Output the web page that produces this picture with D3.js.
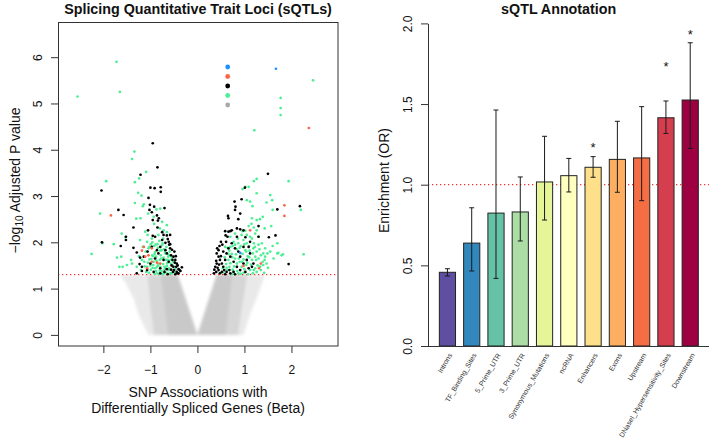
<!DOCTYPE html>
<html>
<head>
<meta charset="utf-8">
<script src="https://cdn.jsdelivr.net/npm/d3@7"></script>
<style>
  body { margin: 0; background: #fff; }
  svg { display: block; font-family: "Liberation Sans", Arial, Helvetica, sans-serif; }
</style>
</head>
<body>
<svg width="709" height="441"></svg>
<script>
// ---- left panel: sQTL volcano (beta, -log10 adj p) ----
const xTicks = [-2, -1, 0, 1, 2];
const yTicks = [0, 1, 2, 3, 4, 5, 6];
const threshold = 1.3;

// non-significant cloud, outlined as envelopes
const grayFringe = [
  [[0, 0], [-1.04, 0], [-1.25, 0.43], [-1.36, 0.79], [-1.54, 1.15], [-1.66, 1.3], [-0.42, 1.3]],
  [[0, 0], [0.98, 0], [1.12, 0.45], [1.26, 0.79], [1.44, 1.3], [0.41, 1.3]]
];
const grayCore = [
  [[0, 0], [-0.92, 0], [-1.0, 0.6], [-1.06, 1.3], [-0.42, 1.3]],
  [[0, 0], [0.86, 0], [0.95, 0.6], [1.06, 1.3], [0.41, 1.3]]
];
const grayInner = [
  [[0, 0], [-0.62, 0], [-0.78, 1.3], [-0.42, 1.3]],
  [[0, 0], [0.6, 0], [0.74, 1.3], [0.41, 1.3]]
];

const greenPts = [
  [-1.34, 3.96], [-1.39, 3.80], [-1.94, 3.32], [-1.09, 3.52], [-1.24, 3.38], [-1.33, 3.30],
  [-1.26, 3.07], [-1.19, 3.01], [-1.14, 2.82], [-1.16, 2.78], [-1.33, 2.85], [-2.07, 2.62],
  [-1.21, 2.52], [-1.30, 2.51], [-1.05, 2.62], [-0.87, 2.71], [-0.79, 2.73], [-0.93, 2.55],
  [-1.61, 2.19], [-1.53, 2.11], [-1.78, 1.96], [-2.02, 1.98], [-2.25, 1.75], [-1.71, 1.67],
  [-1.62, 1.69], [-1.59, 1.47], [-1.66, 1.47], [-1.41, 1.62], [-1.39, 1.54], [-1.50, 1.51],
  [-1.29, 1.47], [-0.75, 2.44], [-0.65, 2.37], [-0.72, 2.26], [-1.22, 2.05], [-1.07, 2.01],
  [-0.99, 1.96], [-0.92, 1.92], [-0.85, 1.96], [-0.75, 1.94], [-0.66, 1.90], [-0.59, 1.80],
  [-0.68, 1.76], [-0.78, 1.72], [-0.88, 1.69], [-0.96, 1.72], [-1.02, 1.63], [-0.93, 1.58],
  [-0.83, 1.54], [-0.73, 1.53], [-0.65, 1.49], [-0.56, 1.54], [-0.52, 1.47], [-0.61, 1.40],
  [-0.70, 1.41], [-0.80, 1.39], [-0.90, 1.44], [-0.99, 1.41], [-1.07, 1.47], [-1.03, 1.34],
  [-0.86, 1.33], [-0.75, 1.31], [-0.66, 1.34], [-0.58, 1.33], [-0.49, 1.36], [-0.54, 1.67],
  [-0.63, 1.62], [-0.72, 1.67], [-0.80, 1.62], [-0.86, 1.47], [-0.94, 1.51], [-1.13, 1.58],
  [-1.10, 1.80], [-1.16, 1.90], [-1.04, 1.87], [-0.79, 1.82], [-0.90, 1.79], [-0.71, 1.85],
  [-0.61, 1.73], [-0.51, 1.58], [-0.97, 2.08], [-0.83, 2.16], [-0.73, 2.08], [-1.06, 2.16],
  [-1.11, 2.23], [-0.68, 1.44], [-0.79, 1.47],
  [-1.00, 1.50], [-0.95, 1.45], [-0.88, 1.38], [-0.82, 1.32], [-0.76, 1.38], [-0.70, 1.47],
  [-0.64, 1.55], [-0.60, 1.44], [-0.55, 1.33], [-0.53, 1.50], [-0.57, 1.62], [-0.62, 1.69],
  [-0.69, 1.78], [-0.76, 1.83], [-0.84, 1.88], [-0.91, 1.75], [-0.98, 1.64], [-1.05, 1.56],
  [-1.12, 1.48], [-1.09, 1.36], [-0.94, 1.70], [-0.87, 1.60], [-0.77, 1.65], [-0.67, 1.62],
  [-0.58, 1.72], [-0.74, 1.98], [-0.81, 2.03], [-0.89, 1.95], [-0.96, 2.00], [-1.02, 1.90],
  [-0.65, 2.22], [-0.80, 2.30], [-0.92, 2.40], [-1.18, 1.62], [-1.24, 1.70], [-1.20, 1.40],
  [-0.72, 1.33], [-0.84, 1.50], [-0.91, 1.32], [-0.47, 1.42],
  [-2.55, 5.15], [-1.72, 5.90], [-1.65, 5.25],
  [1.21, 4.42], [1.94, 3.32], [1.26, 3.37], [1.20, 3.32], [0.96, 3.15], [1.02, 3.20],
  [1.09, 3.20], [1.26, 3.06], [1.05, 2.91], [1.12, 2.88], [1.17, 2.78], [1.47, 2.86],
  [1.55, 3.02], [1.59, 2.91], [1.60, 2.70], [2.20, 2.70], [1.39, 2.55], [1.33, 2.50],
  [1.26, 2.48], [1.16, 2.52], [1.57, 2.35], [1.43, 2.30], [1.26, 2.26], [1.09, 2.35],
  [1.02, 2.25], [1.30, 2.12], [1.20, 1.98], [1.05, 1.98], [1.70, 1.98], [1.60, 1.92],
  [1.72, 1.77], [1.82, 1.74], [2.26, 1.74], [1.40, 1.76], [1.43, 1.62], [1.47, 1.54],
  [1.40, 1.51], [1.33, 1.47], [2.46, 5.50], [1.77, 5.12], [1.77, 4.90], [1.77, 4.75],
  [0.59, 1.90], [0.68, 1.82], [0.75, 1.92], [0.84, 1.85], [0.92, 1.92], [1.02, 1.83],
  [1.11, 1.82], [1.19, 1.87], [1.26, 1.80], [1.35, 1.72], [1.30, 1.65], [1.23, 1.69],
  [1.16, 1.62], [1.07, 1.70], [0.98, 1.63], [0.90, 1.58], [0.80, 1.65], [0.73, 1.75],
  [0.66, 1.62], [0.61, 1.53], [0.68, 1.47], [0.75, 1.41], [0.84, 1.54], [0.94, 1.47],
  [1.04, 1.51], [1.12, 1.40], [1.23, 1.44], [1.26, 1.36], [1.18, 1.33], [1.08, 1.31],
  [0.98, 1.34], [0.87, 1.33], [0.64, 1.40], [0.54, 1.44], [0.73, 1.31], [1.33, 1.47],
  [1.39, 1.58], [1.44, 1.69], [1.49, 1.76], [0.77, 2.01], [0.87, 1.98], [0.98, 2.05],
  [0.70, 2.12], [0.80, 2.19], [0.94, 2.16], [1.05, 2.16], [1.16, 2.08], [1.23, 2.19],
  [1.37, 1.98], [1.44, 1.87], [1.55, 1.80], [1.62, 1.65], [1.70, 1.76], [1.79, 1.72],
  [0.55, 1.35], [0.62, 1.45], [0.70, 1.55], [0.78, 1.48], [0.85, 1.38], [0.92, 1.32],
  [1.00, 1.42], [1.06, 1.56], [1.14, 1.52], [1.20, 1.40], [1.28, 1.50], [1.35, 1.40],
  [0.58, 1.68], [0.66, 1.75], [0.74, 1.68], [0.82, 1.74], [0.88, 1.65], [0.96, 1.75],
  [1.04, 1.80], [1.10, 1.68], [1.18, 1.76], [1.25, 1.62], [0.70, 1.90], [0.80, 1.95],
  [0.90, 1.88], [1.00, 1.96], [1.10, 1.92], [1.22, 1.90], [1.32, 1.85], [0.86, 2.08],
  [0.96, 2.24], [1.12, 2.12], [1.20, 2.32], [0.76, 1.36], [0.95, 1.58], [1.42, 1.34],
  [1.50, 1.45], [0.64, 1.88], [1.30, 1.95], [1.15, 2.40]
];

const blackPts = [
  [-0.95, 4.14], [-0.85, 3.62], [-2.04, 3.12], [-1.00, 3.18], [-0.91, 3.17], [-0.78, 3.19],
  [-0.78, 3.09], [-1.21, 3.46], [-1.04, 2.96], [-1.01, 2.81], [-1.02, 2.70], [-0.92, 2.77],
  [-0.97, 2.65], [-0.70, 2.74], [-1.68, 2.70], [-1.57, 2.59], [-2.03, 2.00], [-1.63, 1.92],
  [-1.36, 2.32], [-1.52, 2.12], [-1.52, 2.05], [-1.36, 1.88], [-1.29, 1.78], [-1.22, 1.67],
  [-1.23, 1.53], [-1.18, 1.38], [-1.29, 1.33], [-1.05, 2.26], [-0.95, 2.14], [-0.86, 2.58],
  [-0.84, 2.47], [-0.82, 2.52], [-0.85, 2.32], [-0.75, 2.22], [-0.72, 2.16], [-0.65, 2.15],
  [-0.58, 2.16], [-0.63, 2.07], [-0.68, 1.99], [-0.58, 1.96], [-0.49, 1.80], [-0.51, 1.69],
  [-0.47, 1.62], [-0.44, 1.54], [-0.51, 1.47], [-0.40, 1.42], [-0.44, 1.36], [-0.33, 1.46],
  [-0.79, 1.90], [-0.83, 1.76], [-0.90, 1.65], [-1.00, 1.54], [-1.07, 1.40], [-0.93, 1.36],
  [-0.79, 1.44], [-0.72, 1.62], [-0.65, 1.76], [-0.58, 1.87], [-0.61, 1.58], [-0.86, 1.83],
  [-0.97, 1.90], [-1.06, 1.80], [-1.14, 1.69], [-0.95, 2.48], [-0.90, 2.12], [-0.75, 2.05],
  [-0.52, 1.36], [-0.47, 1.31], [-0.56, 1.41], [-0.45, 1.47], [-0.40, 1.33], [-0.38, 1.40],
  [-0.53, 1.62], [-0.56, 1.72], [-0.70, 1.36], [-0.63, 1.31], [-0.79, 1.33], [-1.18, 1.47],
  [-0.68, 1.83], [-0.61, 2.01],
  [-0.42, 1.50], [-0.36, 1.38], [-0.48, 1.56], [-0.54, 1.84], [-0.60, 1.95], [-0.46, 1.70],
  [-0.50, 1.40], [-0.43, 1.33], [-0.55, 1.50], [-0.65, 1.42],
  [1.50, 3.48], [1.94, 1.53], [2.18, 2.78], [1.70, 2.71], [1.52, 2.11], [1.66, 2.15],
  [1.01, 3.18], [0.94, 2.93], [0.79, 2.88], [0.81, 2.77], [0.80, 2.70], [0.91, 2.62],
  [0.65, 2.57], [0.66, 2.52], [0.87, 2.50], [0.59, 2.24], [0.66, 2.23], [0.70, 2.24],
  [0.73, 2.26], [0.84, 2.30], [0.91, 2.28], [0.98, 2.26], [1.30, 2.35], [1.30, 2.12],
  [0.47, 1.92], [0.45, 1.83], [0.41, 1.76], [0.45, 1.69], [0.48, 1.62], [0.41, 1.54],
  [0.38, 1.47], [0.45, 1.40], [0.52, 1.36], [0.55, 1.47], [0.59, 1.62], [0.62, 1.76],
  [0.66, 1.87], [0.70, 1.69], [0.77, 1.58], [0.84, 1.47], [0.77, 1.36], [0.91, 1.40],
  [0.98, 1.54], [1.05, 1.62], [1.12, 1.76], [1.09, 1.90], [0.98, 1.90], [0.87, 1.80],
  [0.80, 1.87], [0.73, 1.98], [0.91, 1.69], [1.02, 1.36], [1.09, 1.44], [1.16, 1.47],
  [1.19, 1.54], [0.62, 1.36], [0.52, 1.54], [0.55, 1.80], [0.40, 1.36], [0.48, 1.33],
  [0.59, 1.31], [0.70, 1.33], [0.80, 1.31], [0.36, 1.41], [0.64, 2.12], [0.61, 2.01],
  [0.50, 2.01], [0.84, 2.12], [1.02, 2.11], [1.12, 2.01],
  [0.35, 1.33], [0.40, 1.60], [0.43, 1.45], [0.50, 1.70], [0.53, 1.95], [0.57, 1.40],
  [0.46, 1.52], [0.42, 1.87], [0.60, 2.15], [0.68, 1.40]
];

const redPts = [
  [-1.84, 2.58], [-1.14, 1.90], [-1.18, 1.82], [-0.97, 1.87], [-1.04, 1.72], [-0.86, 1.56],
  [-0.97, 1.58], [-1.07, 1.44], [-0.79, 1.54], [-1.11, 1.69],
  [2.37, 4.47], [1.85, 2.80], [1.85, 2.57], [1.12, 2.26], [1.35, 1.54], [1.31, 1.44], [0.98, 1.49]
];

const bluePts = [[1.67, 5.75], [0.91, 1.77]];

const legendColors = ["#1E90FF", "#FF6347", "#000000", "#4EEE94", "#A9A9A9"];

// ---- right panel: annotation enrichment ----
const annotations = ["Introns", "TF_Binding_Sites", "5_Prime_UTR", "3_Prime_UTR",
  "Synonymous_Mutations", "ncRNA", "Enhancers", "Exons", "Upstream",
  "DNaseI_Hypersensitivity_Sites", "Downstream"];
const oddsRatio = [0.457, 0.638, 0.824, 0.831, 1.017, 1.056, 1.108, 1.157, 1.166, 1.415, 1.525];
const ciLow = [0.434, 0.465, 0.419, 0.651, 0.781, 0.955, 1.046, 0.953, 0.901, 1.318, 1.225];
const ciHigh = [0.479, 0.857, 1.463, 1.048, 1.300, 1.163, 1.174, 1.393, 1.484, 1.519, 1.880];
const starAt = [null, null, null, null, null, null, 1.246, null, null, 1.750, 1.949];
const barColors = ["#5E4FA2", "#3288BD", "#66C2A5", "#ABDDA4", "#E6F598", "#FFFFBF",
  "#FEE08B", "#FDAE61", "#F46D43", "#D53E4F", "#9E0142"];
const orTicks = [0, 0.5, 1, 1.5, 2];

const svg = d3.select("svg");

const defs = svg.append("defs");
defs.append("filter").attr("id", "soft").attr("x", "-10%").attr("y", "-10%")
  .attr("width", "120%").attr("height", "120%")
  .append("feGaussianBlur").attr("stdDeviation", 1.6);
defs.append("clipPath").attr("id", "below").append("rect")
  .attr("x", 0).attr("y", 0).attr("width", 709).attr("height", 335);

// ================= left panel =================
const xL = d3.scaleLinear().domain([-2.965, 2.99]).range([58, 338]);
const yL = d3.scaleLinear().domain([-0.24, 6.76]).range([346, 22]);

const poly = d3.line().x(d => xL(d[0])).y(d => yL(d[1])).curve(d3.curveLinearClosed);
const cloud = svg.append("g").attr("filter", "url(#soft)");
cloud.selectAll(".fringe").data(grayFringe).enter().append("path")
  .attr("d", poly).attr("fill", "#e9e9e9");
cloud.selectAll(".core").data(grayCore).enter().append("path")
  .attr("d", poly).attr("fill", "#d6d6d6");
cloud.selectAll(".inner").data(grayInner).enter().append("path")
  .attr("d", poly).attr("fill", "#c9c9c9");

// threshold
svg.append("line")
  .attr("x1", 58).attr("x2", 338)
  .attr("y1", yL(threshold)).attr("y2", yL(threshold))
  .attr("stroke", "#ff3030").attr("stroke-width", 1.2)
  .attr("stroke-dasharray", "1.3 2.7");

function drawPts(data, color) {
  svg.append("g").selectAll("circle").data(data).enter().append("circle")
    .attr("cx", d => xL(d[0])).attr("cy", d => yL(d[1]))
    .attr("r", 1.35).attr("fill", color);
}
drawPts(greenPts, "#4EEE94");
drawPts(blackPts, "#000");
drawPts(redPts, "#FF6347");
drawPts(bluePts, "#1E90FF");

// legend dots
svg.append("g").selectAll("circle").data(legendColors).enter().append("circle")
  .attr("cx", 227.7).attr("cy", (d, i) => 67 + i * 9.5)
  .attr("r", 2.4).attr("fill", d => d);

// box
svg.append("rect").attr("x", 58.5).attr("y", 22.5).attr("width", 279.5).attr("height", 323.5)
  .attr("fill", "none").attr("stroke", "#333");

const axB = svg.append("g").attr("transform", "translate(0,346)")
  .call(d3.axisBottom(xL).tickValues(xTicks).tickSize(7).tickPadding(12).tickFormat(d3.format("d")));
axB.select(".domain").remove();
axB.selectAll("text").attr("font-size", 12).attr("fill", "#111").style("font-family", "inherit");
axB.selectAll("line").attr("stroke", "#333");

const axL = svg.append("g").attr("transform", "translate(58,0)")
  .call(d3.axisLeft(yL).tickValues(yTicks).tickSize(7).tickFormat(d3.format("d")));
axL.select(".domain").remove();
axL.selectAll("line").attr("stroke", "#333");
axL.selectAll("text").attr("x", 0).attr("dy", 0).attr("text-anchor", "middle")
  .attr("transform", "translate(-16.5,0) rotate(-90)")
  .attr("font-size", 12).attr("fill", "#111").style("font-family", "inherit");

svg.append("text").attr("x", 198).attr("y", 14).attr("text-anchor", "middle")
  .attr("font-size", 14.3).attr("font-weight", "bold").attr("fill", "#111")
  .text("Splicing Quantitative Trait Loci (sQTLs)");

const xTitle = svg.append("text").attr("text-anchor", "middle").attr("font-size", 14).attr("fill", "#111");
xTitle.append("tspan").attr("x", 198).attr("y", 396.5).text("SNP Associations with");
xTitle.append("tspan").attr("x", 198).attr("y", 413).text("Differentially Spliced Genes (Beta)");

const yTitle = svg.append("text").attr("text-anchor", "middle").attr("font-size", 14).attr("fill", "#111")
  .attr("transform", "translate(20,180.5) rotate(-90)");
yTitle.append("tspan").text("\u2212log");
yTitle.append("tspan").attr("font-size", 10).attr("dy", 3).text("10");
yTitle.append("tspan").attr("dy", -3).text(" Adjusted P value");

// ================= right panel =================
const xR = d3.scaleBand().domain(annotations).range([435.3, 702.35])
  .paddingInner(1 / 3).paddingOuter(1 / 6);
const yR = d3.scaleLinear().domain([0, 2]).range([346, 23.4]);

svg.append("line").attr("x1", 428).attr("x2", 709)
  .attr("y1", yR(1)).attr("y2", yR(1))
  .attr("stroke", "#ff3030").attr("stroke-width", 1.2)
  .attr("stroke-dasharray", "1.3 2.7");

const rows = annotations.map((a, i) => ({
  name: a, or: oddsRatio[i], lo: ciLow[i], hi: ciHigh[i], star: starAt[i], color: barColors[i]
}));

svg.append("g").selectAll("rect").data(rows).enter().append("rect")
  .attr("x", d => xR(d.name)).attr("width", xR.bandwidth())
  .attr("y", d => yR(d.or)).attr("height", d => yR(0) - yR(d.or))
  .attr("fill", d => d.color).attr("stroke", "#222").attr("stroke-width", 1);

const err = svg.append("g").attr("stroke", "#1a1a1a").attr("stroke-width", 1);
rows.forEach(d => {
  const cx = xR(d.name) + xR.bandwidth() / 2;
  err.append("line").attr("x1", cx).attr("x2", cx).attr("y1", yR(d.lo)).attr("y2", yR(d.hi));
  err.append("line").attr("x1", cx - 2.5).attr("x2", cx + 2.5).attr("y1", yR(d.lo)).attr("y2", yR(d.lo));
  err.append("line").attr("x1", cx - 2.5).attr("x2", cx + 2.5).attr("y1", yR(d.hi)).attr("y2", yR(d.hi));
});

svg.append("g").selectAll("text").data(rows.filter(d => d.star !== null)).enter().append("text")
  .attr("x", d => xR(d.name) + xR.bandwidth() / 2)
  .attr("y", d => yR(d.star) + 7)
  .attr("text-anchor", "middle").attr("font-size", 13).attr("fill", "#111")
  .text("*");

// baseline
svg.append("line").attr("x1", 428).attr("x2", 709).attr("y1", 346.5).attr("y2", 346.5)
  .attr("stroke", "#333");

const axR = svg.append("g").attr("transform", "translate(428,0)")
  .call(d3.axisLeft(yR).tickValues(orTicks).tickSize(7).tickSizeOuter(0).tickFormat(d3.format(".1f")));
axR.selectAll("line, path").attr("stroke", "#333");
axR.selectAll("text").attr("x", 0).attr("dy", 0).attr("text-anchor", "middle")
  .attr("transform", "translate(-16,0) rotate(-90)")
  .attr("font-size", 12).attr("fill", "#111").style("font-family", "inherit");

svg.append("g").selectAll("text").data(annotations).enter().append("text")
  .attr("text-anchor", "end").attr("font-size", 7).attr("fill", "#333")
  .attr("transform", d => `translate(${xR(d) + xR.bandwidth() / 2 + 5},355) rotate(-60)`)
  .text(d => d);

svg.append("text").attr("x", 558.7).attr("y", 13.5).attr("text-anchor", "middle")
  .attr("font-size", 14.3).attr("font-weight", "bold").attr("fill", "#111")
  .text("sQTL Annotation");

svg.append("text").attr("text-anchor", "middle").attr("font-size", 14).attr("fill", "#111")
  .attr("transform", "translate(389,180.5) rotate(-90)")
  .text("Enrichment (OR)");
</script>
</body>
</html>
